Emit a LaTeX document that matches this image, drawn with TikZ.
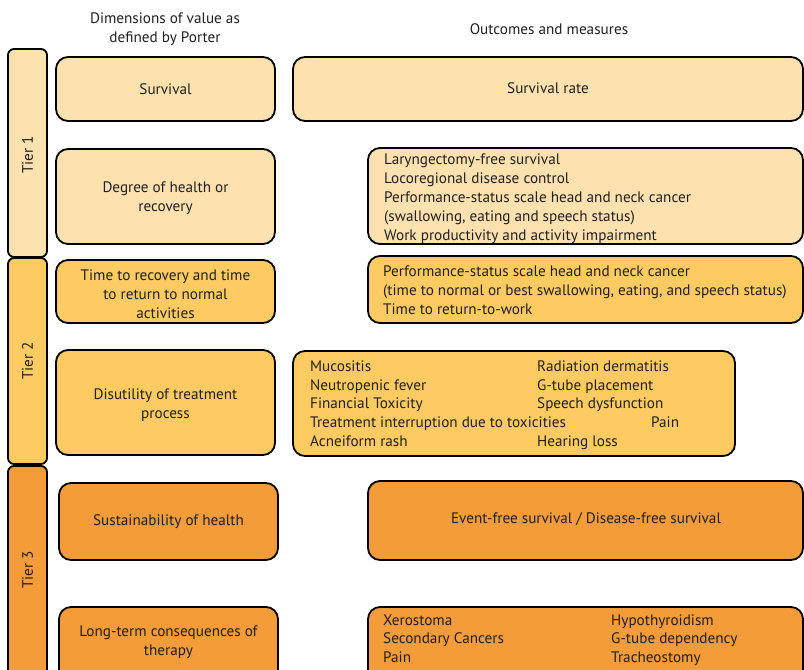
\documentclass[tikz,border=0pt]{standalone}
\usepackage{fontspec}
\setmainfont{PT Sans}
\definecolor{cone}{HTML}{FDE1AF}
\definecolor{ctwo}{HTML}{FDCB62}
\definecolor{cthree}{HTML}{F49B3A}
\definecolor{ink}{HTML}{231F20}
\newcommand{\fsz}{\fontsize{15.2}{19}\selectfont}
\tikzset{
  rbox/.style={draw=black, line width=1.8pt, rounded corners=12pt},
  tierbar/.style={draw=black, line width=1.8pt, rounded corners=6pt},
  lbl/.style={inner sep=0pt, text=ink, font=\fsz, align=center},
  item/.style={inner sep=0pt, text=ink, font=\fsz, anchor=west, text height=10.5pt, text depth=3pt},
}
\begin{document}
\begin{tikzpicture}[x=1pt,y=-1pt]
\useasboundingbox (0,0) rectangle (804,670);
\clip (0,0) rectangle (804,670);
% headers
\node[lbl] (h1) at (165,29) {Dimensions of value as\\defined by Porter};
\node[lbl] (h2) at (549,29) {Outcomes and measures};
% tier bars
\draw[tierbar, fill=cone] (8,49) rectangle (47,257);
\draw[tierbar, fill=ctwo] (8,258) rectangle (47,464);
\draw[tierbar, fill=cthree] (8,466) rectangle (47,690);
\node[lbl, rotate=90] (tier1) at (27.5,155) {Tier 1};
\node[lbl, rotate=90] (tier2) at (27.5,361) {Tier 2};
\node[lbl, rotate=90] (tier3) at (27.5,570) {Tier 3};
% left column
\draw[rbox, fill=cone] (56,57) rectangle (275,121);
\node[lbl] (surv) at (165.5,89) {Survival};
\draw[rbox, fill=cone] (56,149) rectangle (275,244);
\node[lbl] (deg) at (165.5,198) {Degree of health or\\recovery};
\draw[rbox, fill=ctwo] (56,260) rectangle (275,323);
\node[lbl] (time) at (165.5,294) {Time to recovery and time\\to return to normal\\activities};
\draw[rbox, fill=ctwo] (56,350) rectangle (275,455);
\node[lbl] (dis) at (165.5,405) {Disutility of treatment\\process};
\draw[rbox, fill=cthree] (59,483) rectangle (278,560);
\node[lbl] (sus) at (168.5,521.5) {Sustainability of health};
\draw[rbox, fill=cthree] (59,607) rectangle (278,700);
\node[lbl] (lt) at (168.5,642) {Long-term consequences of\\therapy};
% right column
\draw[rbox, fill=cone] (293,57) rectangle (803,121);
\node[lbl] (sr) at (548,88) {Survival rate};
\draw[rbox, fill=cone] (368,148) rectangle (803,244);
\foreach \t [count=\i from 0] in {Laryngectomy-free survival,Locoregional disease control,Performance-status scale head and neck cancer,{(swallowing, eating and speech status)},Work productivity and activity impairment}
  \node[item] (a\i) at (384,160.5+19*\i) {\t};
\draw[rbox, fill=ctwo] (368,256) rectangle (803,323);
\foreach \t [count=\i from 0] in {Performance-status scale head and neck cancer,{(time to normal or best swallowing, eating, and speech status)},Time to return-to-work}
  \node[item] (b\i) at (383,272.5+19*\i) {\t};
\draw[rbox, fill=ctwo] (293,351) rectangle (735,456);
\foreach \t [count=\i from 0] in {Mucositis,Neutropenic fever,Financial Toxicity,Treatment interruption due to toxicities,Acneiform rash}
  \node[item] (c\i) at (310,367.5+18.8*\i) {\t};
\foreach \t/\i in {Radiation dermatitis/0,G-tube placement/1,Speech dysfunction/2,Hearing loss/4}
  \node[item] (d\i) at (537,367.5+18.8*\i) {\t};
\node[item] (pain1) at (651,423.9) {Pain};
\draw[rbox, fill=cthree] (368,481) rectangle (803,560);
\node[lbl] (efs) at (586,519) {Event-free survival / Disease-free survival};
\draw[rbox, fill=cthree] (368,607) rectangle (803,700);
\foreach \t [count=\i from 0] in {Xerostoma,Secondary Cancers,Pain}
  \node[item] (e\i) at (383,621.5+18.5*\i) {\t};
\foreach \t [count=\i from 0] in {Hypothyroidism,G-tube dependency,Tracheostomy}
  \node[item] (f\i) at (611,621.5+18.5*\i) {\t};
\end{tikzpicture}
\end{document}
